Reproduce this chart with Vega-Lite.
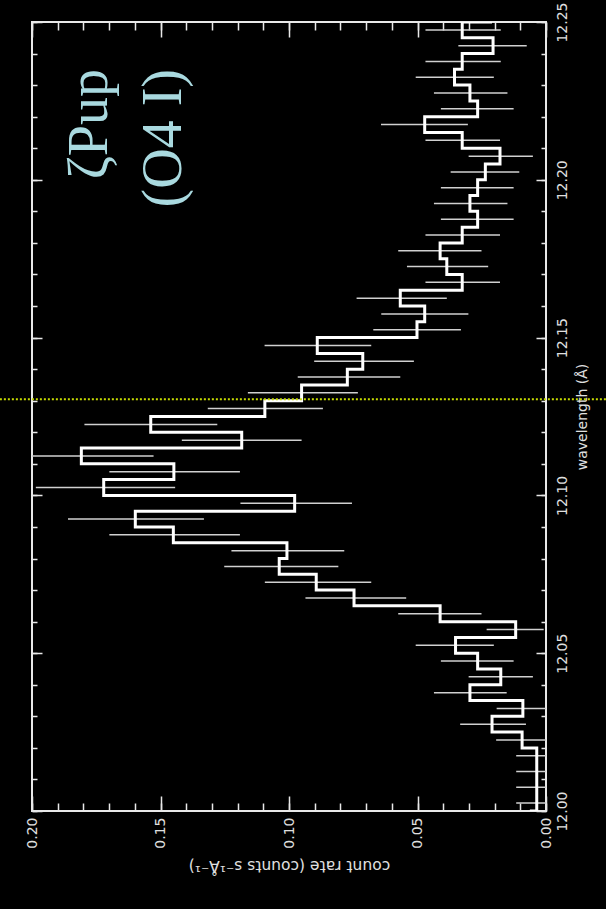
{
  "$schema": "https://vega.github.io/schema/vega-lite/v6.json",
  "width": 514,
  "height": 789,
  "autosize": {"type": "none"},
  "padding": {"left": 32, "top": 22, "right": 60, "bottom": 98},
  "background": "black",
  "config": {
    "view": {"stroke": "#e8e8e8", "strokeWidth": 2},
    "axis": {
      "grid": false,
      "domain": false,
      "tickColor": "#e8e8e8",
      "tickWidth": 1.5,
      "labelColor": "#e0e0e0",
      "labelFont": "DejaVu Sans",
      "labelFontSize": 14,
      "titleColor": "#e0e0e0",
      "titleFont": "DejaVu Sans",
      "titleFontSize": 14,
      "titleFontWeight": "normal"
    }
  },
  "datasets": {
    "spectrum": [
      {"w": 11.995, "center": 11.9975, "rate": 0.0057, "lo": -0.0030, "hi": 0.0144},
      {"w": 12.000, "center": 12.0025, "rate": 0.0036, "lo": -0.0044, "hi": 0.0116},
      {"w": 12.005, "center": 12.0075, "rate": 0.0036, "lo": -0.0044, "hi": 0.0116},
      {"w": 12.010, "center": 12.0125, "rate": 0.0036, "lo": -0.0044, "hi": 0.0116},
      {"w": 12.015, "center": 12.0175, "rate": 0.0036, "lo": -0.0044, "hi": 0.0116},
      {"w": 12.020, "center": 12.0225, "rate": 0.0093, "lo": -0.0008, "hi": 0.0194},
      {"w": 12.025, "center": 12.0275, "rate": 0.0210, "lo": 0.0078, "hi": 0.0334},
      {"w": 12.030, "center": 12.0325, "rate": 0.0090, "lo": -0.0012, "hi": 0.0192},
      {"w": 12.035, "center": 12.0375, "rate": 0.0296, "lo": 0.0153, "hi": 0.0436},
      {"w": 12.040, "center": 12.0425, "rate": 0.0176, "lo": 0.0051, "hi": 0.0301},
      {"w": 12.045, "center": 12.0475, "rate": 0.0266, "lo": 0.0126, "hi": 0.0409},
      {"w": 12.050, "center": 12.0525, "rate": 0.0352, "lo": 0.0203, "hi": 0.0507},
      {"w": 12.055, "center": 12.0575, "rate": 0.0118, "lo": 0.0009, "hi": 0.0231},
      {"w": 12.060, "center": 12.0625, "rate": 0.0412, "lo": 0.0251, "hi": 0.0575},
      {"w": 12.065, "center": 12.0675, "rate": 0.0747, "lo": 0.0544, "hi": 0.0936},
      {"w": 12.070, "center": 12.0725, "rate": 0.0894, "lo": 0.0680, "hi": 0.1094},
      {"w": 12.075, "center": 12.0775, "rate": 0.1038, "lo": 0.0808, "hi": 0.1252},
      {"w": 12.080, "center": 12.0825, "rate": 0.1008, "lo": 0.0785, "hi": 0.1224},
      {"w": 12.085, "center": 12.0875, "rate": 0.1450, "lo": 0.1191, "hi": 0.1699},
      {"w": 12.090, "center": 12.0925, "rate": 0.1598, "lo": 0.1331, "hi": 0.1860},
      {"w": 12.095, "center": 12.0975, "rate": 0.0978, "lo": 0.0755, "hi": 0.1189},
      {"w": 12.100, "center": 12.1025, "rate": 0.1721, "lo": 0.1443, "hi": 0.1985},
      {"w": 12.105, "center": 12.1075, "rate": 0.1448, "lo": 0.1191, "hi": 0.1699},
      {"w": 12.110, "center": 12.1125, "rate": 0.1808, "lo": 0.1527, "hi": 0.2090},
      {"w": 12.115, "center": 12.1175, "rate": 0.1184, "lo": 0.0951, "hi": 0.1417},
      {"w": 12.120, "center": 12.1225, "rate": 0.1538, "lo": 0.1279, "hi": 0.1796},
      {"w": 12.125, "center": 12.1275, "rate": 0.1094, "lo": 0.0868, "hi": 0.1316},
      {"w": 12.130, "center": 12.1325, "rate": 0.0951, "lo": 0.0732, "hi": 0.1160},
      {"w": 12.135, "center": 12.1375, "rate": 0.0773, "lo": 0.0567, "hi": 0.0966},
      {"w": 12.140, "center": 12.1425, "rate": 0.0713, "lo": 0.0514, "hi": 0.0902},
      {"w": 12.145, "center": 12.1475, "rate": 0.0890, "lo": 0.0680, "hi": 0.1095},
      {"w": 12.150, "center": 12.1525, "rate": 0.0502, "lo": 0.0331, "hi": 0.0672},
      {"w": 12.155, "center": 12.1575, "rate": 0.0472, "lo": 0.0302, "hi": 0.0641},
      {"w": 12.160, "center": 12.1625, "rate": 0.0567, "lo": 0.0386, "hi": 0.0737},
      {"w": 12.165, "center": 12.1675, "rate": 0.0326, "lo": 0.0179, "hi": 0.0469},
      {"w": 12.170, "center": 12.1725, "rate": 0.0386, "lo": 0.0225, "hi": 0.0541},
      {"w": 12.175, "center": 12.1775, "rate": 0.0412, "lo": 0.0251, "hi": 0.0575},
      {"w": 12.180, "center": 12.1825, "rate": 0.0326, "lo": 0.0179, "hi": 0.0469},
      {"w": 12.185, "center": 12.1875, "rate": 0.0266, "lo": 0.0126, "hi": 0.0409},
      {"w": 12.190, "center": 12.1925, "rate": 0.0296, "lo": 0.0150, "hi": 0.0436},
      {"w": 12.195, "center": 12.1975, "rate": 0.0266, "lo": 0.0126, "hi": 0.0409},
      {"w": 12.200, "center": 12.2025, "rate": 0.0236, "lo": 0.0104, "hi": 0.0371},
      {"w": 12.205, "center": 12.2075, "rate": 0.0179, "lo": 0.0051, "hi": 0.0301},
      {"w": 12.210, "center": 12.2125, "rate": 0.0326, "lo": 0.0179, "hi": 0.0469},
      {"w": 12.215, "center": 12.2175, "rate": 0.0472, "lo": 0.0304, "hi": 0.0642},
      {"w": 12.220, "center": 12.2225, "rate": 0.0266, "lo": 0.0126, "hi": 0.0409},
      {"w": 12.225, "center": 12.2275, "rate": 0.0296, "lo": 0.0150, "hi": 0.0436},
      {"w": 12.230, "center": 12.2325, "rate": 0.0356, "lo": 0.0203, "hi": 0.0507},
      {"w": 12.235, "center": 12.2375, "rate": 0.0326, "lo": 0.0176, "hi": 0.0469},
      {"w": 12.240, "center": 12.2425, "rate": 0.0206, "lo": 0.0075, "hi": 0.0341},
      {"w": 12.245, "center": 12.2475, "rate": 0.0326, "lo": 0.0176, "hi": 0.0469},
      {"w": 12.250, "center": 12.2525, "rate": 0.0210, "lo": 0.0080, "hi": 0.0340}
    ],
    "feature": [
      {"w": 12.1305}
    ],
    "labels": [
      {"label": "ζPup", "rate": 0.1710, "w": 12.2351},
      {"label": "(O4 I)", "rate": 0.1422, "w": 12.2351}
    ]
  },
  "layer": [
    {
      "data": {"name": "spectrum"},
      "mark": {"type": "rule", "color": "#d0d0d0", "strokeWidth": 1.5, "clip": true},
      "encoding": {
        "x": {
          "field": "lo", "type": "quantitative",
          "scale": {"domain": [0, 0.2], "reverse": true, "nice": false, "zero": false},
          "axis": {"orient": "bottom", "values": [0,0.01,0.02,0.03,0.04,0.05,0.06,0.07,0.08,0.09,0.1,0.11,0.12,0.13,0.14,0.15,0.16,0.17,0.18,0.19,0.2], "tickSize": -8, "labels": false, "title": null}
        },
        "x2": {"field": "hi"},
        "y": {
          "field": "center", "type": "quantitative",
          "scale": {"domain": [12, 12.25], "nice": false, "zero": false},
          "axis": {"orient": "right", "values": [12,12.01,12.02,12.03,12.04,12.05,12.06,12.07,12.08,12.09,12.1,12.11,12.12,12.13,12.14,12.15,12.16,12.17,12.18,12.19,12.2,12.21,12.22,12.23,12.24,12.25], "tickSize": -5, "labels": false, "title": null}
        }
      }
    },
    {
      "data": {"name": "spectrum"},
      "mark": {"type": "line", "interpolate": "step-before", "color": "white", "strokeWidth": 3, "clip": true, "strokeJoin": "miter"},
      "encoding": {
        "x": {
          "field": "rate", "type": "quantitative",
          "scale": {"domain": [0, 0.2], "reverse": true, "nice": false, "zero": false},
          "axis": {"orient": "bottom", "values": [0, 0.05, 0.1, 0.15, 0.2], "format": ".2f", "tickSize": -15, "labelAngle": 270, "labelAlign": "right", "labelBaseline": "middle", "labelPadding": 21, "title": "count rate (counts s⁻¹Å⁻¹)", "titleAngle": 180, "titlePadding": 24, "titleFontSize": 15.5}
        },
        "y": {
          "field": "w", "type": "quantitative",
          "scale": {"domain": [12, 12.25], "nice": false, "zero": false},
          "axis": {"orient": "right", "values": [12, 12.05, 12.1, 12.15, 12.2, 12.25], "format": ".2f", "tickSize": -10, "labelAngle": 270, "labelAlign": "center", "labelBaseline": "top", "labelPadding": 19, "title": "wavelength (Å)", "titleAngle": 270, "titlePadding": 20}
        },
        "order": {"field": "w", "type": "quantitative"}
      }
    },
    {
      "data": {"name": "feature"},
      "mark": {"type": "rule", "color": "#c8dc00", "strokeWidth": 2, "strokeDash": [2, 2], "clip": false},
      "encoding": {
        "x": {
          "datum": 0.2125, "type": "quantitative",
          "scale": {"domain": [0, 0.2], "reverse": true, "nice": false, "zero": false},
          "axis": {"orient": "top", "values": [0, 0.05, 0.1, 0.15, 0.2], "tickSize": -15, "labels": false, "title": null}
        },
        "x2": {"datum": -0.0235},
        "y": {
          "field": "w", "type": "quantitative",
          "scale": {"domain": [12, 12.25], "nice": false, "zero": false},
          "axis": {"orient": "left", "values": [12, 12.05, 12.1, 12.15, 12.2, 12.25], "tickSize": -10, "labels": false, "title": null}
        }
      }
    },
    {
      "data": {"name": "labels"},
      "mark": {"type": "text", "font": "Liberation Serif", "fontSize": 56, "color": "#a9d9df", "angle": 270, "align": "right", "baseline": "alphabetic"},
      "encoding": {
        "x": {
          "field": "rate", "type": "quantitative",
          "scale": {"domain": [0, 0.2], "reverse": true, "nice": false, "zero": false},
          "axis": {"orient": "top", "values": [0,0.01,0.02,0.03,0.04,0.05,0.06,0.07,0.08,0.09,0.1,0.11,0.12,0.13,0.14,0.15,0.16,0.17,0.18,0.19,0.2], "tickSize": -8, "labels": false, "title": null}
        },
        "y": {
          "field": "w", "type": "quantitative",
          "scale": {"domain": [12, 12.25], "nice": false, "zero": false},
          "axis": {"orient": "left", "values": [12,12.01,12.02,12.03,12.04,12.05,12.06,12.07,12.08,12.09,12.1,12.11,12.12,12.13,12.14,12.15,12.16,12.17,12.18,12.19,12.2,12.21,12.22,12.23,12.24,12.25], "tickSize": -5, "labels": false, "title": null}
        },
        "text": {"field": "label"}
      }
    }
  ],
  "resolve": {"axis": {"x": "independent", "y": "independent"}}
}
